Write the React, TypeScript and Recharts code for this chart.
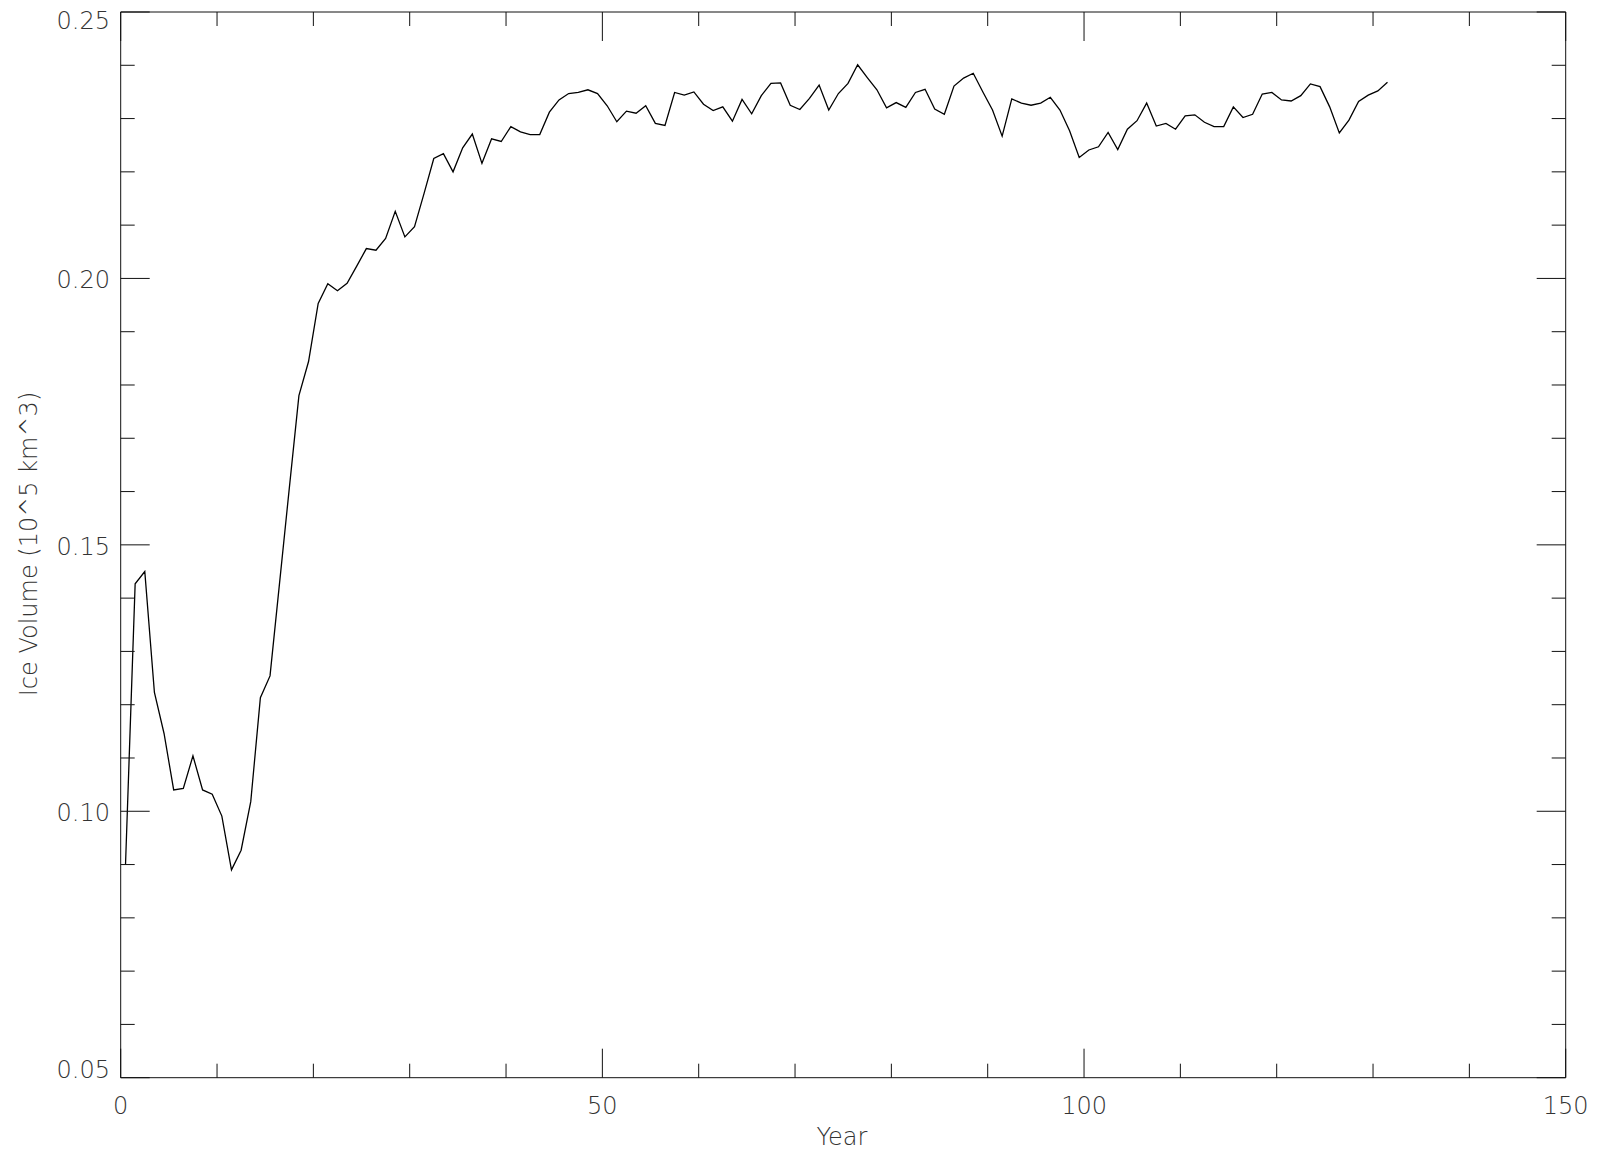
import React from 'react';
import { LineChart, Line, XAxis, YAxis } from 'recharts';

const iceVolume: number[] = [
  0.0900, 0.1427, 0.1450, 0.1223, 0.1146, 0.1040, 0.1043, 0.1104, 0.1040, 0.1032,
  0.0991, 0.0890, 0.0927, 0.1018, 0.1213, 0.1254, 0.1430, 0.1606, 0.1780, 0.1844,
  0.1953, 0.1990, 0.1977, 0.1991, 0.2023, 0.2056, 0.2053, 0.2075, 0.2126, 0.2078,
  0.2097, 0.2160, 0.2225, 0.2234, 0.2200, 0.2245, 0.2271, 0.2216, 0.2262, 0.2257,
  0.2285, 0.2275, 0.2270, 0.2270, 0.2312, 0.2335, 0.2347, 0.2349, 0.2354, 0.2347,
  0.2324, 0.2294, 0.2314, 0.2310, 0.2324, 0.2291, 0.2287, 0.2349, 0.2344, 0.2350,
  0.2327, 0.2315, 0.2322, 0.2295, 0.2336, 0.2309, 0.2343, 0.2366, 0.2367, 0.2325,
  0.2317, 0.2338, 0.2363, 0.2316, 0.2347, 0.2366, 0.2401, 0.2377, 0.2354, 0.2320,
  0.2330, 0.2321, 0.2349, 0.2355, 0.2318, 0.2308, 0.2361, 0.2376, 0.2385, 0.2350,
  0.2316, 0.2267, 0.2337, 0.2329, 0.2325, 0.2329, 0.2340, 0.2316, 0.2277, 0.2227,
  0.2241, 0.2247, 0.2274, 0.2242, 0.2280, 0.2296, 0.2329, 0.2286, 0.2291, 0.2280,
  0.2305, 0.2307, 0.2293, 0.2285, 0.2285, 0.2322, 0.2302, 0.2308, 0.2346, 0.2349,
  0.2335, 0.2333, 0.2343, 0.2365, 0.2360, 0.2322, 0.2273, 0.2297, 0.2332, 0.2344,
  0.2352, 0.2368,
];

// sample times (mid-year)
const years: number[] = iceVolume.map((_, i) => i + 0.5);

const xTicks: number[] = [0, 10, 20, 30, 40, 50, 60, 70, 80, 90, 100, 110, 120, 130, 140, 150];
const yTicks: number[] = [
  0.05, 0.06, 0.07, 0.08, 0.09, 0.10, 0.11, 0.12, 0.13, 0.14, 0.15,
  0.16, 0.17, 0.18, 0.19, 0.20, 0.21, 0.22, 0.23, 0.24, 0.25,
];
const xMajorStep = 50;
const yMajorLabels: string[] = ['0.05', '0.10', '0.15', '0.20', '0.25'];

const data = years.map((y, i) => ({ year: y, v: iceVolume[i] }));

const FONT = 'DejaVu Sans, sans-serif';
const TXT = '#333';
const AX = '#111';
const MAJOR = 29;
const MINOR = 14;

const isXMajor = (v: number) => Math.round(v) % xMajorStep === 0;
const isYMajor = (v: number) => Math.round(v * 100) % 5 === 0;

const BottomTick = (props: any) => {
  const { x, y, payload } = props;
  const v = payload.value as number;
  const major = isXMajor(v);
  return (
    <g>
      <line x1={x} x2={x} y1={y} y2={y - (major ? MAJOR : MINOR)} stroke={AX} strokeWidth={1} />
      {major && (
        <text x={x} y={y + 36.3} textAnchor="middle" fontFamily={FONT} fontSize={24} fontWeight={200} fill={TXT}>
          {String(v)}
        </text>
      )}
    </g>
  );
};

const TopTick = (props: any) => {
  const { x, y, payload } = props;
  const v = payload.value as number;
  const major = isXMajor(v);
  return <line x1={x} x2={x} y1={y} y2={y + (major ? MAJOR : MINOR)} stroke={AX} strokeWidth={1} />;
};

const LeftTick = (props: any) => {
  const { x, y, payload } = props;
  const v = payload.value as number;
  const major = isYMajor(v);
  const label = v.toFixed(2);
  let dy = 10;
  if (label === yMajorLabels[yMajorLabels.length - 1]) dy = 17.3;
  if (label === yMajorLabels[0]) dy = 0.6;
  return (
    <g>
      <line x1={x} x2={x + (major ? MAJOR : MINOR)} y1={y} y2={y} stroke={AX} strokeWidth={1} />
      {major && (
        <text x={x - 10.7} y={y + dy} textAnchor="end" fontFamily={FONT} fontSize={24} fontWeight={200} fill={TXT}>
          {label}
        </text>
      )}
    </g>
  );
};

const RightTick = (props: any) => {
  const { x, y, payload } = props;
  const v = payload.value as number;
  const major = isYMajor(v);
  return <line x1={x} x2={x - (major ? MAJOR : MINOR)} y1={y} y2={y} stroke={AX} strokeWidth={1} />;
};

export default function App() {
  return (
    <div style={{ position: 'absolute', left: 0, top: 0, width: 1599, height: 1154, background: '#fff' }}>
      <LineChart width={1599} height={1154} data={data} margin={{ top: 11, right: 32.3, bottom: 0, left: 0 }}>
        <XAxis
          xAxisId="b"
          dataKey="year"
          type="number"
          domain={[0, 150]}
          ticks={xTicks}
          interval={0}
          height={76.3}
          tickSize={0}
          tickMargin={0}
          tickLine={false}
          axisLine={{ stroke: AX, strokeWidth: 1 }}
          tick={<BottomTick />}
          allowDataOverflow
        />
        <XAxis
          xAxisId="t"
          orientation="top"
          dataKey="year"
          type="number"
          domain={[0, 150]}
          ticks={xTicks}
          interval={0}
          height={1}
          tickSize={0}
          tickMargin={0}
          tickLine={false}
          axisLine={{ stroke: AX, strokeWidth: 1 }}
          tick={<TopTick />}
          allowDataOverflow
        />
        <YAxis
          yAxisId="l"
          type="number"
          domain={[0.05, 0.25]}
          ticks={yTicks}
          interval={0}
          width={120.7}
          tickSize={0}
          tickMargin={0}
          tickLine={false}
          axisLine={{ stroke: AX, strokeWidth: 1 }}
          tick={<LeftTick />}
          allowDataOverflow
        />
        <YAxis
          yAxisId="r"
          orientation="right"
          type="number"
          domain={[0.05, 0.25]}
          ticks={yTicks}
          interval={0}
          width={1}
          tickSize={0}
          tickMargin={0}
          tickLine={false}
          axisLine={{ stroke: AX, strokeWidth: 1 }}
          tick={<RightTick />}
          allowDataOverflow
        />
        <Line
          xAxisId="b"
          yAxisId="l"
          type="linear"
          dataKey="v"
          stroke="#000"
          strokeWidth={1.3}
          dot={false}
          activeDot={false}
          isAnimationActive={false}
        />
        <text x={842} y={1145} textAnchor="middle" fontFamily={FONT} fontSize={24} fontWeight={200} fill={TXT}>
          Year
        </text>
        <text
          x={36.7}
          y={544}
          transform="rotate(-90 36.7 544)"
          textAnchor="middle"
          fontFamily={FONT}
          fontSize={24}
          fontWeight={200}
          fill={TXT}
        >
          Ice Volume (10^5 km^3)
        </text>
      </LineChart>
    </div>
  );
}
